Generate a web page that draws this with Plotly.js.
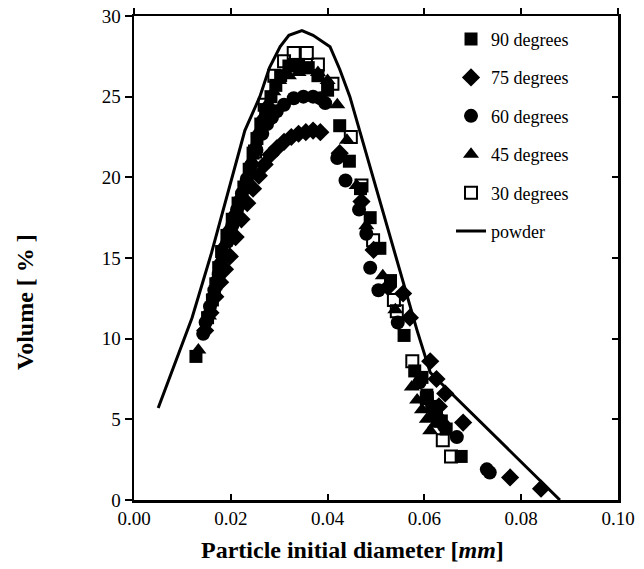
<!DOCTYPE html>
<html>
<head>
<meta charset="utf-8">
<script src="https://cdn.plot.ly/plotly-3.0.1.min.js"></script>
<style>html,body{margin:0;padding:0;background:#fff;}#chart{width:644px;height:569px;}</style>
</head>
<body>
<div id="chart"></div>
<script>
// Powder reference curve
const powderX = [0.005, 0.008, 0.012, 0.016, 0.0192, 0.0229, 0.026, 0.028, 0.0302, 0.032, 0.0347, 0.037, 0.0405, 0.0425, 0.0446, 0.0466, 0.0505, 0.0543, 0.0585, 0.0612, 0.088];
const powderY = [5.7, 8.1, 11.3, 15.3, 18.8, 22.9, 25.0, 26.8, 28.1, 28.8, 29.1, 28.8, 28.1, 26.7, 25.0, 22.9, 18.9, 14.9, 10.5, 7.9, 0.0];

// 90 degrees (filled squares)
const deg90X = [0.0128, 0.0152, 0.0162, 0.0169, 0.0175, 0.0181, 0.0192, 0.0203, 0.0215, 0.0227, 0.0238, 0.0246, 0.0254, 0.0262, 0.0272, 0.0283, 0.0293, 0.0303, 0.032, 0.034, 0.036, 0.038, 0.040, 0.0425, 0.0445, 0.0468, 0.0488, 0.0508, 0.053, 0.0558, 0.058, 0.0595, 0.0605, 0.0615, 0.0625, 0.0635, 0.0645, 0.0676];
const deg90Y = [8.9, 11.3, 12.4, 13.4, 14.4, 15.4, 16.4, 17.4, 18.4, 19.4, 20.5, 21.5, 22.4, 23.3, 24.2, 25.0, 25.7, 26.3, 26.9, 27.0, 26.8, 26.3, 25.4, 23.2, 21.0, 19.3, 17.5, 15.6, 13.6, 10.2, 8.0, 7.6, 6.5, 5.8, 5.4, 4.9, 4.4, 2.7];

// 75 degrees (diamonds)
const deg75X = [0.0147, 0.0158, 0.0168, 0.0178, 0.0188, 0.0198, 0.021, 0.0222, 0.0234, 0.0246, 0.0258, 0.027, 0.0282, 0.0295, 0.031, 0.0325, 0.034, 0.0355, 0.037, 0.0385, 0.0425, 0.047, 0.0495, 0.0525, 0.0556, 0.057, 0.0612, 0.0625, 0.063, 0.0643, 0.068, 0.0777, 0.0841];
const deg75Y = [10.5, 11.6, 12.6, 13.5, 14.3, 15.1, 16.3, 17.4, 18.4, 19.3, 20.1, 20.8, 21.4, 21.8, 22.2, 22.5, 22.7, 22.8, 22.9, 22.8, 21.5, 18.5, 15.5, 13.2, 12.8, 11.3, 8.6, 7.5, 5.8, 6.6, 4.8, 1.4, 0.7];

// 60 degrees (filled circles)
const deg60X = [0.0143, 0.0148, 0.0157, 0.0166, 0.0175, 0.0184, 0.0193, 0.0203, 0.0213, 0.0223, 0.0233, 0.0243, 0.0253, 0.0265, 0.0275, 0.0285, 0.0295, 0.031, 0.033, 0.035, 0.037, 0.0385, 0.0395, 0.042, 0.0437, 0.0465, 0.048, 0.0488, 0.0505, 0.0545, 0.059, 0.0605, 0.062, 0.063, 0.064, 0.0667, 0.0729, 0.0735];
const deg60Y = [10.3, 11.0, 12.0, 13.0, 14.0, 15.0, 16.0, 17.0, 18.0, 19.0, 19.9, 20.8, 21.7, 22.7, 23.3, 23.7, 24.1, 24.5, 24.9, 25.0, 25.0, 24.9, 24.6, 21.2, 19.8, 18.0, 16.5, 14.4, 13.0, 11.0, 7.3, 6.3, 5.5, 5.0, 4.6, 3.9, 1.9, 1.7];

// 45 degrees (filled triangles)
const deg45X = [0.0133, 0.0155, 0.0165, 0.0173, 0.0179, 0.0187, 0.0197, 0.0209, 0.0221, 0.0232, 0.0242, 0.025, 0.0258, 0.0267, 0.0277, 0.0288, 0.030, 0.032, 0.034, 0.036, 0.038, 0.040, 0.042, 0.044, 0.046, 0.048, 0.0514, 0.054, 0.0574, 0.0585, 0.0595, 0.0605, 0.0612, 0.0622, 0.063];
const deg45Y = [9.3, 11.4, 12.9, 13.9, 14.9, 15.9, 16.9, 17.9, 18.9, 19.9, 21.0, 22.0, 22.9, 23.8, 24.6, 25.3, 26.0, 26.3, 26.5, 26.6, 26.5, 26.0, 24.5, 22.3, 19.5, 17.0, 13.9, 11.8, 7.0, 6.2, 5.6, 5.0, 4.3, 4.7, 5.0];

// 30 degrees (open squares)
const deg30X = [0.0250, 0.027, 0.029, 0.031, 0.033, 0.0357, 0.038, 0.041, 0.0448, 0.047, 0.0494, 0.0537, 0.0543, 0.0575, 0.0605, 0.0638, 0.0655];
const deg30Y = [21.6, 24.5, 26.3, 27.2, 27.7, 27.7, 27.0, 25.8, 22.5, 19.5, 16.1, 12.4, 11.7, 8.6, 6.3, 3.7, 2.7];

const xTicks = [0, 0.02, 0.04, 0.06, 0.08, 0.10];
const xTickText = ['0.00', '0.02', '0.04', '0.06', '0.08', '0.10'];
const yTicks = [0, 5, 10, 15, 20, 25, 30];

const serif = 'Liberation Serif';

function pts(x, y, name, symbol, size, lg) {
  return {
    x: x, y: y, name: name, type: 'scatter', mode: 'markers',
    legendgroup: lg,
    marker: {symbol: symbol, size: size, color: '#000',
             line: {color: '#000', width: symbol.indexOf('open') >= 0 ? 2 : 0}}
  };
}

const traces = [
  pts(deg90X, deg90Y, '90 degrees', 'square', 13, 'a'),
  pts(deg75X, deg75Y, '75 degrees', 'diamond', 14, 'b'),
  pts(deg60X, deg60Y, '60 degrees', 'circle', 14, 'c'),
  pts(deg45X, deg45Y, '45 degrees', 'triangle-up', 14, 'd'),
  pts(deg30X, deg30Y, '30 degrees', 'square-open', 12, 'e'),
  {x: powderX, y: powderY, name: 'powder', type: 'scatter', mode: 'lines',
   legendgroup: 'f', line: {color: '#000', width: 3}},
  {x: [], y: [], xaxis: 'x2', yaxis: 'y2', showlegend: false, type: 'scatter'}
];

const layout = {
  width: 644, height: 569,
  margin: {l: 134, r: 26, t: 16, b: 69},
  paper_bgcolor: '#fff', plot_bgcolor: '#fff',
  font: {family: serif, color: '#000'},
  showlegend: true,
  legend: {x: 0.655, y: 0.99, xanchor: 'left', yanchor: 'top',
           bgcolor: 'rgba(0,0,0,0)', traceorder: 'grouped', tracegroupgap: 12,
           font: {family: serif, size: 18, color: '#000'}},
  xaxis: {range: [0, 0.10], tickvals: xTicks, ticktext: xTickText,
          ticks: 'inside', ticklen: 6, tickwidth: 2, tickcolor: '#000',
          showline: true, linewidth: 2.5, linecolor: '#000', mirror: true,
          showgrid: false, zeroline: false,
          tickfont: {family: serif, size: 19, color: '#000'}},
  xaxis2: {range: [0, 0.10], overlaying: 'x', side: 'top', tickvals: xTicks,
           showticklabels: false, ticks: 'outside', ticklen: 7, tickwidth: 2, tickcolor: '#000',
           showgrid: false, zeroline: false, showline: false},
  yaxis: {range: [0, 30], tickvals: yTicks,
          ticks: 'outside', ticklen: 7, tickwidth: 2, tickcolor: '#000',
          showline: true, linewidth: 2.5, linecolor: '#000', mirror: true,
          showgrid: false, zeroline: false,
          tickfont: {family: serif, size: 19, color: '#000'}},
  yaxis2: {range: [0, 30], overlaying: 'y', side: 'right', tickvals: yTicks,
           showticklabels: false, ticks: 'inside', ticklen: 6, tickwidth: 2, tickcolor: '#000',
           showgrid: false, zeroline: false, showline: false},
  annotations: [
    {text: '<b>Particle initial diameter [<i>mm</i>]</b>', xref: 'paper', yref: 'paper',
     x: (352 - 134) / 484, y: -(550 - 500) / 484, xanchor: 'center', yanchor: 'middle',
     showarrow: false, font: {family: serif, size: 24, color: '#000'}},
    {text: '<b>Volume [ % ]</b>', xref: 'paper', yref: 'paper', textangle: -90,
     x: -(134 - 25) / 484, y: (500 - 302) / 484, xanchor: 'center', yanchor: 'middle',
     showarrow: false, font: {family: serif, size: 24, color: '#000'}}
  ]
};

Plotly.newPlot('chart', traces, layout, {displayModeBar: false, staticPlot: true});
</script>
</body>
</html>
